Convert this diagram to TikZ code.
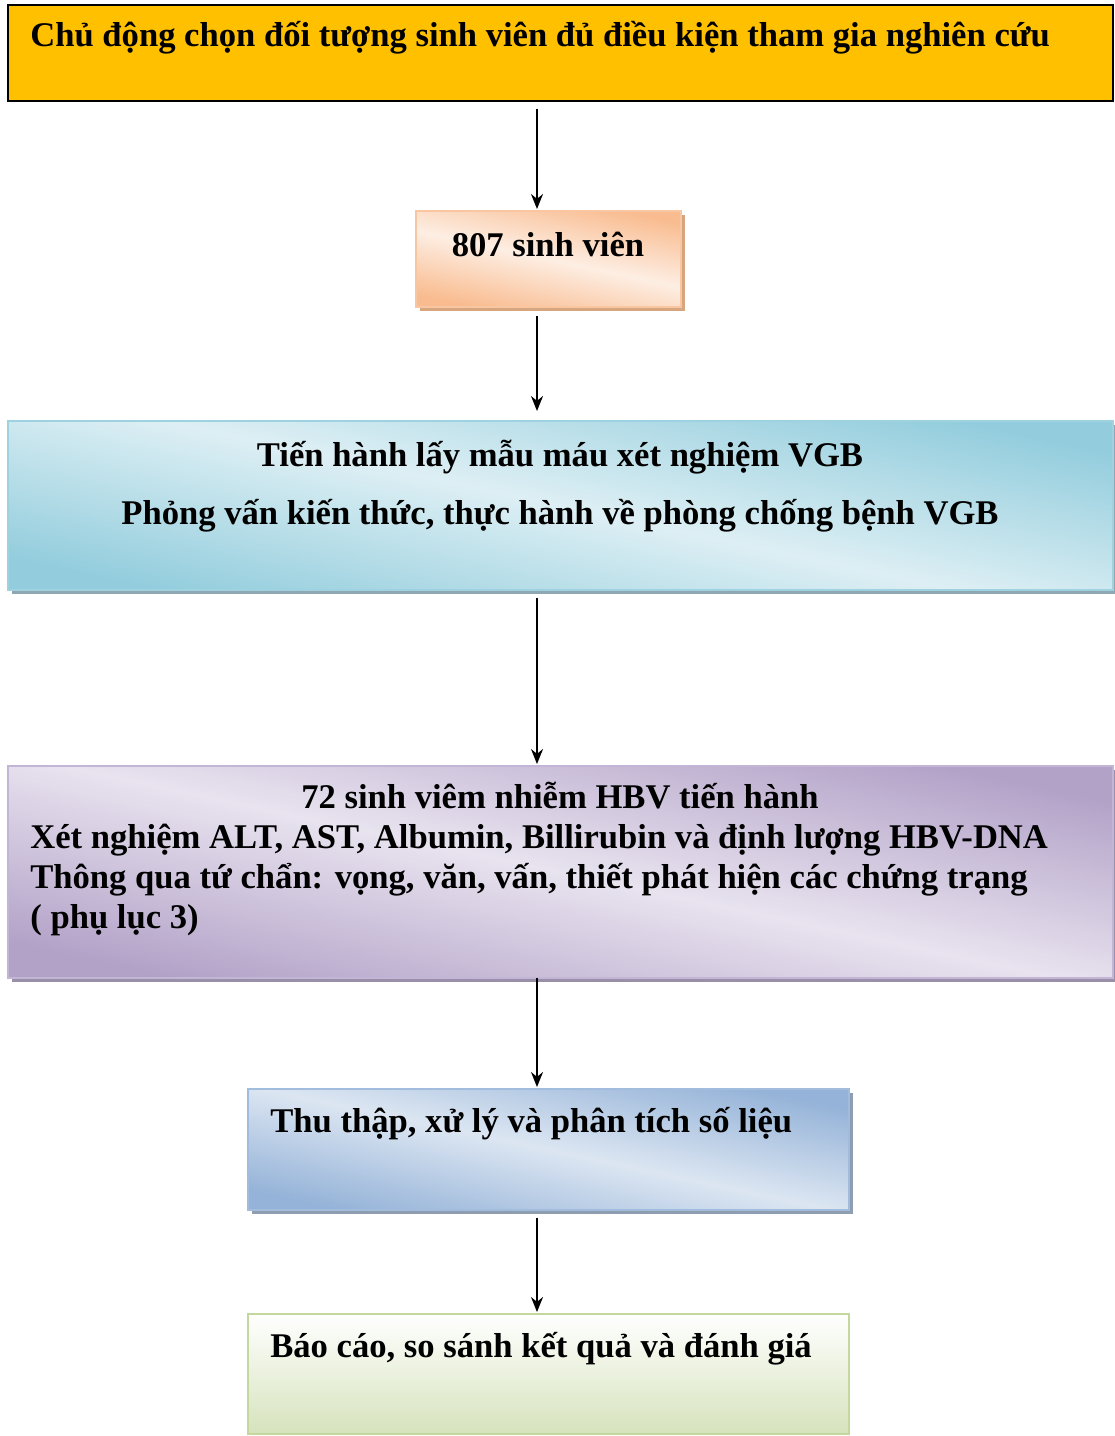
\documentclass[tikz,border=0pt]{standalone}
\usepackage{fontspec}
\setmainfont{Liberation Serif}
\usepackage{tikz}
\usetikzlibrary{arrows, arrows.meta, shadows, positioning}
\tikzset{>=stealth}

\definecolor{gold}{HTML}{FFC000}
\definecolor{peachD}{HTML}{F9BC90}
\definecolor{peachL}{HTML}{FDEEE3}
\definecolor{peachB}{HTML}{F8C6A0}
\definecolor{peachS}{HTML}{D7A67E}
\definecolor{aquaD}{HTML}{93CDDD}
\definecolor{aquaL}{HTML}{DDEFF4}
\definecolor{aquaB}{HTML}{9ED2E0}
\definecolor{aquaS}{HTML}{8EA7B2}
\definecolor{lilacD}{HTML}{B3A2C8}
\definecolor{lilacL}{HTML}{E8E3EF}
\definecolor{lilacB}{HTML}{C2B5D5}
\definecolor{lilacS}{HTML}{9A8FA8}
\definecolor{steelD}{HTML}{95B3D8}
\definecolor{steelL}{HTML}{DCE6F2}
\definecolor{steelB}{HTML}{A2BCDD}
\definecolor{steelS}{HTML}{8E9DB0}
\definecolor{leafD}{HTML}{D6E3BC}
\definecolor{leafB}{HTML}{C4D79E}

\tikzset{
  box/.style={rectangle, inner sep=0pt, outer sep=0pt},
  shbox/.style={box, line width=1.2pt, draw=#1B, top color=#1D, bottom color=#1D,
    middle color=#1L, shading angle=-12,
    drop shadow={shadow xshift=0.08cm, shadow yshift=-0.08cm, fill=#1S, opacity=1}},
  txt/.style={inner sep=0pt, font=\fontsize{19.7}{22.7}\selectfont\bfseries},
  arr/.style={-{Stealth[length=0.3cm, width=0.24cm]}, line width=1.1pt, shorten <=0.16cm, shorten >=0.04cm}
}

\begin{document}
\begin{tikzpicture}[x=0.02cm, y=-0.02cm]
\useasboundingbox (0,0) rectangle (1115,1436);

\node[box, draw=black, line width=1pt, fill=gold, minimum width=22.1cm, minimum height=1.92cm] (b1) at (560.5,53) {};
\node[shbox=peach, minimum width=5.3cm, minimum height=1.92cm] (b2) at (548.5,259) {};
\node[shbox=aqua, minimum width=22.1cm, minimum height=3.38cm] (b3) at (560.5,505.5) {};
\node[shbox=lilac, minimum width=22.1cm, minimum height=4.24cm] (b4) at (560.5,872) {};
\node[shbox=steel, minimum width=12.02cm, minimum height=2.42cm] (b5) at (548.5,1149.5) {};
\node[box, line width=1.2pt, draw=leafB, top color=white, bottom color=leafD, minimum width=12.02cm, minimum height=2.4cm] (b6) at (548.5,1374) {};

\node[txt, anchor=base west] (t1) at (30,47) {Chủ động chọn đối tượng sinh viên đủ điều kiện tham gia nghiên cứu};
\node[txt, anchor=base] (t2) at (548,256) {807 sinh viên};
\node[txt, anchor=base] (t3a) at (560,466) {Tiến hành lấy mẫu máu xét nghiệm VGB};
\node[txt, anchor=base] (t3b) at (560,524) {Phỏng vấn kiến thức, thực hành về phòng chống bệnh VGB};
\node[txt, anchor=base] (t4a) at (560,808) {72 sinh viêm nhiễm HBV tiến hành};
\node[txt, anchor=base west] (t4b) at (30,848) {Xét nghiệm ALT, AST, Albumin, Billirubin và định lượng HBV-DNA};
\node[txt, anchor=base west] (t4c) at (30,888) {Thông qua tứ chẩn: vọng, văn, vấn, thiết phát hiện các chứng trạng};
\node[txt, anchor=base west] (t4d) at (30,928) {( phụ lục 3)};
\node[txt, anchor=base west] (t5) at (270,1132) {Thu thập, xử lý và phân tích số liệu};
\node[txt, anchor=base west] (t6) at (270,1357) {Báo cáo, so sánh kết quả và đánh giá};

\coordinate (ax) at (537,0);
\draw[arr] (b1.south -| ax) -- (b2.north -| ax);
\draw[arr, shorten <=0.18cm, shorten >=0.2cm] (b2.south -| ax) -- (b3.north -| ax);
\draw[arr] (b3.south -| ax) -- (b4.north -| ax);
\draw[arr, shorten <=0pt] (b4.south -| ax) -- (b5.north -| ax);
\draw[arr] (b5.south -| ax) -- (b6.north -| ax);
\end{tikzpicture}
\end{document}
